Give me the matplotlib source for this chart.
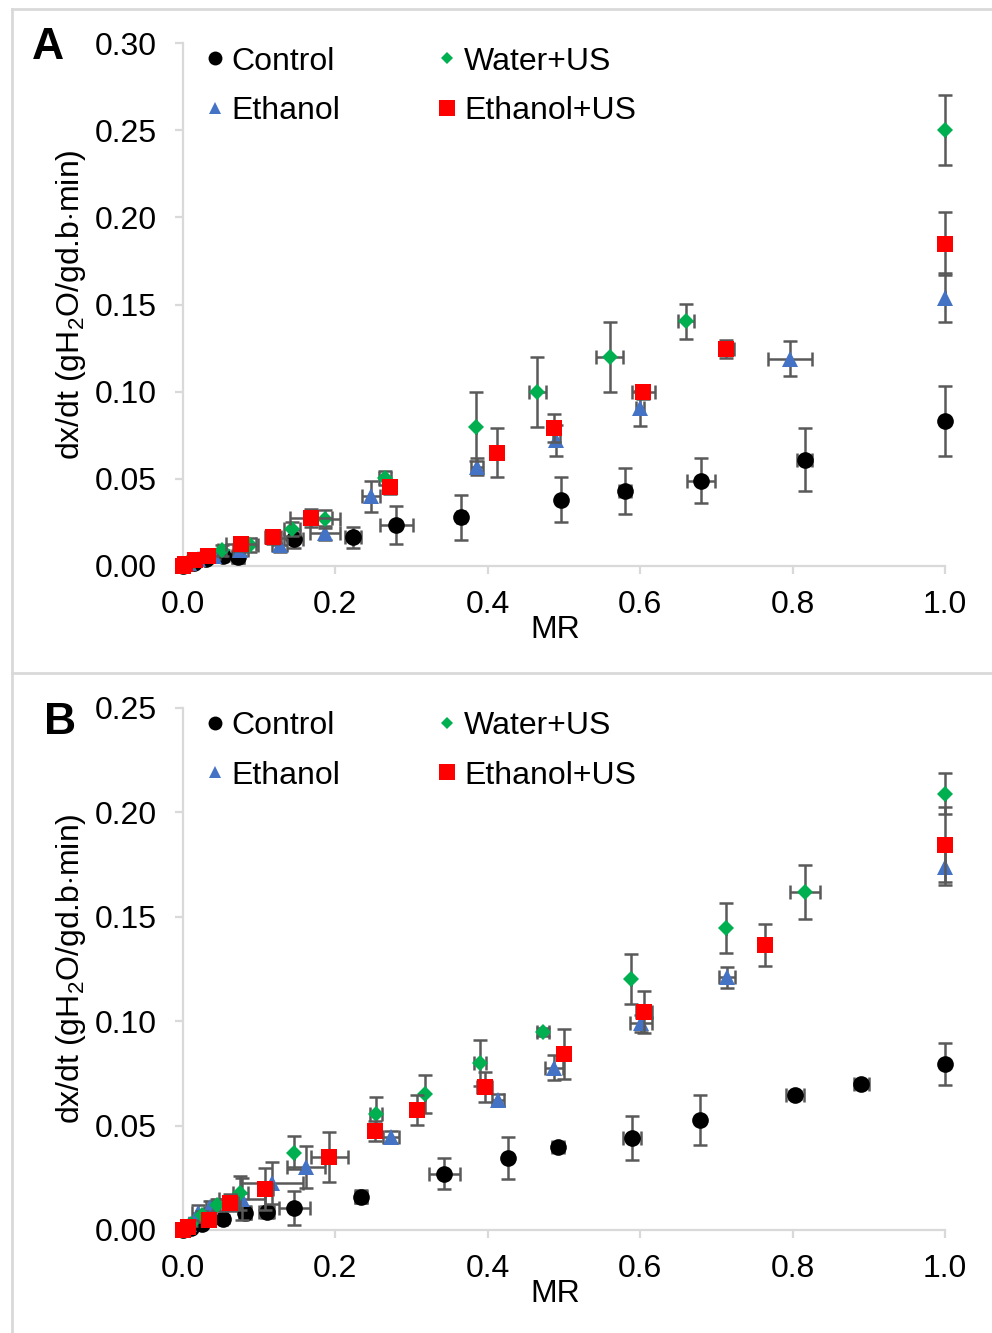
import matplotlib
matplotlib.use('Agg')
import matplotlib.pyplot as plt
from matplotlib.lines import Line2D

plt.rcParams['font.family'] = ['Liberation Sans', 'DejaVu Sans']
plt.rcParams['mathtext.fontset'] = 'custom'
plt.rcParams['mathtext.rm'] = 'Liberation Sans'
plt.rcParams['mathtext.it'] = 'Liberation Sans'

# ---------------- panel A data ----------------
ctrl_a_x = [1.0, 0.816, 0.68, 0.58, 0.496, 0.365, 0.28, 0.223, 0.145, 0.072, 0.052, 0.03, 0.015, 0.005, 0.0]
ctrl_a_y = [0.083, 0.061, 0.049, 0.043, 0.038, 0.028, 0.0235, 0.0165, 0.0155, 0.005, 0.006, 0.004, 0.002, 0.001, 0.0]
ctrl_a_ye = [0.02, 0.018, 0.013, 0.013, 0.013, 0.013, 0.011, 0.006, 0.005, 0.004, 0.003, 0.002, 0.001, 0.001, 0]
ctrl_a_xe = [0, 0.01, 0.018, 0.008, 0, 0.005, 0.022, 0.01, 0.012, 0.008, 0.006, 0, 0, 0, 0]

wat_a_x = [1.0, 0.66, 0.56, 0.465, 0.385, 0.265, 0.186, 0.143, 0.088, 0.051, 0.03, 0.015, 0.005, 0.0]
wat_a_y = [0.25, 0.1405, 0.12, 0.10, 0.08, 0.0505, 0.027, 0.021, 0.012, 0.009, 0.006, 0.003, 0.0015, 0.0]
wat_a_ye = [0.02, 0.01, 0.02, 0.02, 0.02, 0.004, 0.005, 0.004, 0.004, 0.003, 0.002, 0.001, 0.001, 0]
wat_a_xe = [0, 0.01, 0.018, 0.011, 0, 0.008, 0.02, 0.01, 0.01, 0.005, 0, 0, 0, 0]

eth_a_x = [1.0, 0.797, 0.60, 0.49, 0.386, 0.247, 0.186, 0.127, 0.075, 0.04, 0.02, 0.008, 0.0]
eth_a_y = [0.154, 0.119, 0.0905, 0.072, 0.057, 0.040, 0.019, 0.012, 0.009, 0.006, 0.004, 0.002, 0.0]
eth_a_ye = [0.014, 0.01, 0.01, 0.009, 0.005, 0.009, 0.004, 0.004, 0.003, 0.002, 0.001, 0.001, 0]
eth_a_xe = [0, 0.029, 0.005, 0.005, 0.008, 0.012, 0.02, 0.01, 0.01, 0.005, 0, 0, 0]

etu_a_x = [1.0, 0.713, 0.604, 0.487, 0.412, 0.272, 0.168, 0.118, 0.076, 0.033, 0.016, 0.003, 0.0]
etu_a_y = [0.185, 0.1245, 0.100, 0.079, 0.065, 0.0455, 0.0275, 0.0165, 0.0125, 0.006, 0.0035, 0.001, 0.0]
etu_a_ye = [0.018, 0.005, 0.004, 0.008, 0.014, 0.004, 0.005, 0.004, 0.004, 0.002, 0.001, 0.001, 0]
etu_a_xe = [0, 0.01, 0.015, 0.008, 0, 0.005, 0.028, 0.01, 0.02, 0.005, 0, 0, 0]

# ---------------- panel B data ----------------
ctrl_b_x = [1.0, 0.89, 0.803, 0.678, 0.589, 0.492, 0.427, 0.343, 0.234, 0.146, 0.11, 0.081, 0.053, 0.025, 0.01, 0.0]
ctrl_b_y = [0.0795, 0.070, 0.0647, 0.0527, 0.044, 0.0397, 0.0345, 0.027, 0.016, 0.0105, 0.0086, 0.0083, 0.0053, 0.003, 0.001, 0.0]
ctrl_b_ye = [0.01, 0.002, 0.002, 0.012, 0.0105, 0.002, 0.01, 0.0075, 0.003, 0.008, 0.003, 0.003, 0.002, 0.001, 0.001, 0]
ctrl_b_xe = [0, 0.01, 0.012, 0, 0.012, 0.008, 0, 0.02, 0.008, 0.02, 0.01, 0.008, 0.005, 0, 0, 0]

wat_b_x = [1.0, 0.816, 0.713, 0.588, 0.472, 0.39, 0.318, 0.253, 0.146, 0.075, 0.044, 0.025, 0.01, 0.0]
wat_b_y = [0.209, 0.162, 0.1446, 0.120, 0.0948, 0.080, 0.065, 0.0555, 0.037, 0.0177, 0.012, 0.007, 0.003, 0.0]
wat_b_ye = [0.01, 0.013, 0.012, 0.012, 0.002, 0.011, 0.009, 0.008, 0.008, 0.008, 0.003, 0.002, 0.001, 0]
wat_b_xe = [0, 0.02, 0, 0, 0.008, 0.008, 0, 0.008, 0, 0.01, 0.005, 0, 0, 0]

eth_b_x = [1.0, 0.714, 0.601, 0.487, 0.413, 0.273, 0.161, 0.117, 0.077, 0.035, 0.02, 0.008, 0.0]
eth_b_y = [0.174, 0.121, 0.099, 0.0776, 0.0623, 0.0445, 0.030, 0.0225, 0.015, 0.011, 0.008, 0.003, 0.0]
eth_b_ye = [0.009, 0.005, 0.004, 0.006, 0.003, 0.003, 0.01, 0.01, 0.01, 0.003, 0.004, 0.001, 0]
eth_b_xe = [0, 0.01, 0.015, 0.012, 0.008, 0.01, 0.025, 0.041, 0.03, 0.005, 0.008, 0, 0]

etu_b_x = [1.0, 0.764, 0.605, 0.5, 0.396, 0.307, 0.252, 0.192, 0.108, 0.062, 0.034, 0.007, 0.0]
etu_b_y = [0.1845, 0.1365, 0.1045, 0.0843, 0.0685, 0.0575, 0.0474, 0.035, 0.0196, 0.013, 0.005, 0.0015, 0.0]
etu_b_ye = [0.018, 0.01, 0.01, 0.012, 0.007, 0.007, 0.005, 0.012, 0.01, 0.004, 0.003, 0.001, 0]
etu_b_xe = [0, 0, 0.01, 0, 0.01, 0, 0, 0.024, 0.01, 0.01, 0.005, 0, 0]

labels = ['Control', 'Ethanol', 'Water+US', 'Ethanol+US']
colors = ['#000000', '#4472C4', '#00B050', '#FF0000']
markers = ['o', '^', 'D', 's']
msizes = [12, 11, 8, 12]
leg_sizes = [10, 9, 6, 11]

grey = '#595959'
axcol = '#d9d9d9'
fs = 23

fig = plt.figure(figsize=(9.92, 13.33), dpi=100)
axA = fig.add_axes([0.1845, 0.5754, 0.7681, 0.3923])
axB = fig.add_axes([0.1845, 0.0773, 0.7681, 0.3916])


def draw_panel(ax, series, ymax, letter, lpos):
    for i, (x, y, xe, ye) in enumerate(series):
        ax.errorbar(x, y, xerr=xe, yerr=ye, fmt='none', ecolor=grey,
                    elinewidth=1.8, capsize=5, capthick=1.8, zorder=2 + 2 * i,
                    clip_on=False)
        ax.plot(x, y, linestyle='none', marker=markers[i], color=colors[i],
                markersize=msizes[i], markeredgewidth=0, zorder=3 + 2 * i,
                clip_on=False)
    ax.set_xlim(0, 1.0)
    ax.set_ylim(0, ymax)
    ax.set_xticks([0, 0.2, 0.4, 0.6, 0.8, 1.0])
    ax.set_xticklabels(['0.0', '0.2', '0.4', '0.6', '0.8', '1.0'])
    yt = [k * 0.05 for k in range(int(round(ymax / 0.05)) + 1)]
    ax.set_yticks(yt)
    ax.set_yticklabels(['%.2f' % v for v in yt])
    for s in ['top', 'right']:
        ax.spines[s].set_visible(False)
    for s in ['left', 'bottom']:
        ax.spines[s].set_color(axcol)
        ax.spines[s].set_linewidth(1.6)
    ax.tick_params(axis='both', direction='out', length=6, width=1.6,
                   color=axcol, labelsize=fs, labelcolor='#000000')
    ax.tick_params(axis='y', pad=13)
    ax.tick_params(axis='x', pad=11)
    ax.set_xlabel('MR', fontsize=fs)
    ax.xaxis.set_label_coords(0.488, -0.094)
    ax.set_ylabel('dx/dt (gH$_2$O/gd.b$\\cdot$min)', fontsize=fs, labelpad=5)
    handles = [Line2D([], [], linestyle='none', marker=markers[i], color=colors[i],
                      markersize=leg_sizes[i], markeredgewidth=0) for i in range(4)]
    ax.legend(handles, labels, ncol=2, loc='upper left', bbox_to_anchor=(0.0, 1.03),
              frameon=False, fontsize=fs, handlelength=0.8, handletextpad=0.12,
              columnspacing=2.95, labelspacing=0.6, borderaxespad=0.2)
    ax.text(lpos[0], lpos[1], letter, transform=ax.transAxes, fontsize=32,
            fontweight='bold', family='Liberation Sans', ha='center', va='center')


draw_panel(axA, [(ctrl_a_x, ctrl_a_y, ctrl_a_xe, ctrl_a_ye),
                 (eth_a_x, eth_a_y, eth_a_xe, eth_a_ye),
                 (wat_a_x, wat_a_y, wat_a_xe, wat_a_ye),
                 (etu_a_x, etu_a_y, etu_a_xe, etu_a_ye)], 0.30, 'A', (-0.177, 0.992))
draw_panel(axB, [(ctrl_b_x, ctrl_b_y, ctrl_b_xe, ctrl_b_ye),
                 (eth_b_x, eth_b_y, eth_b_xe, eth_b_ye),
                 (wat_b_x, wat_b_y, wat_b_xe, wat_b_ye),
                 (etu_b_x, etu_b_y, etu_b_xe, etu_b_ye)], 0.25, 'B', (-0.161, 0.973))

# light frame around the two panels
W, H = 992.0, 1333.0
for (x0, y0, x1, y1) in [(12, 9, 992, 9), (12, 9, 12, 1333), (12, 673, 992, 673)]:
    fig.add_artist(Line2D([x0 / W, x1 / W], [1 - y0 / H, 1 - y1 / H],
                          transform=fig.transFigure, color=axcol, linewidth=2))

fig.savefig('out.png', dpi=100)
